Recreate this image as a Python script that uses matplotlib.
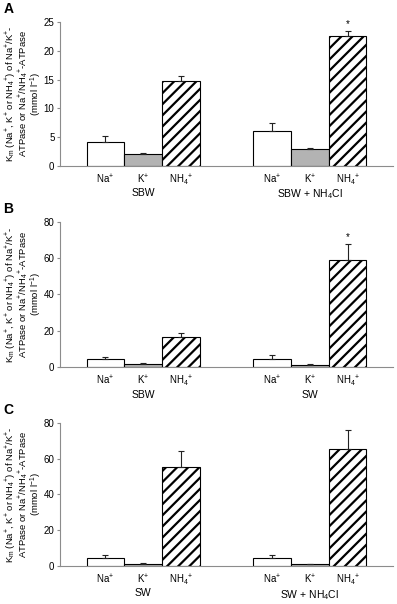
import numpy as np
import matplotlib
matplotlib.use('Agg')
import matplotlib.pyplot as plt

plt.rcParams['font.family'] = ['Liberation Sans', 'DejaVu Sans']
plt.rcParams['mathtext.fontset'] = 'custom'
plt.rcParams['mathtext.rm'] = 'Liberation Sans'
plt.rcParams['mathtext.it'] = 'Liberation Sans:italic'
plt.rcParams['mathtext.bf'] = 'Liberation Sans:bold'
plt.rcParams['hatch.linewidth'] = 1.6

# bar categories inside each group
ions = ['Na$^{+}$', 'K$^{+}$', 'NH$_{4}$$^{+}$']

# panel A
groups_A = ['SBW', 'SBW + NH$_{4}$Cl']
na_A = [4.2, 6.0]
na_A_err = [1.0, 1.5]
k_A = [2.0, 2.9]
k_A_err = [0.2, 0.2]
nh4_A = [14.7, 22.5]
nh4_A_err = [0.9, 1.0]
stars_A = ['', '*']
yticks_A = [0, 5, 10, 15, 20, 25]

# panel B
groups_B = ['SBW', 'SW']
na_B = [4.4, 4.4]
na_B_err = [1.2, 2.0]
k_B = [1.7, 1.3]
k_B_err = [0.5, 0.3]
nh4_B = [16.4, 59.0]
nh4_B_err = [2.1, 9.0]
stars_B = ['', '*']
yticks_B = [0, 20, 40, 60, 80]

# panel C
groups_C = ['SW', 'SW + NH$_{4}$Cl']
na_C = [4.3, 4.7]
na_C_err = [2.0, 1.5]
k_C = [1.3, 1.0]
k_C_err = [0.3, 0.3]
nh4_C = [55.2, 65.3]
nh4_C_err = [8.8, 10.7]
stars_C = ['', '']
yticks_C = [0, 20, 40, 60, 80]

ylab = ('K$_{\\mathrm{m}}$ (Na$^{+}$, K$^{+}$ or NH$_{4}$$^{+}$) of Na$^{+}$/K$^{+}$-\n'
        'ATPase or Na$^{+}$/NH$_{4}$$^{+}$-ATPase\n(mmol l$^{-1}$)')

axis_gray = '#8c8c8c'
fig = plt.figure(figsize=(3.97, 6.04), dpi=100)


def panel(rect, letter, groups, vals, errs, stars, yticks, group_off):
    ax = fig.add_axes(rect)
    x = np.arange(len(groups))
    w = 0.227
    styles = [dict(color='white', hatch=None),
              dict(color='#b3b3b3', hatch=None),
              dict(color='white', hatch='///')]
    centers = []
    for i, (v, e, st) in enumerate(zip(vals, errs, styles)):
        pos = x + (i - 1) * w
        centers.extend(pos)
        ax.bar(pos, v, w, color=st['color'], hatch=st['hatch'],
               edgecolor='black', linewidth=0.8, zorder=2)
        ax.errorbar(pos, v, yerr=[np.zeros(len(v)), e], fmt='none',
                    ecolor='#222222', elinewidth=0.8, capsize=2,
                    capthick=0.8, zorder=3)
    # significance stars above NH4+ bars
    for j, s in enumerate(stars):
        if s:
            top = vals[2][j] + errs[2][j]
            ax.annotate(s, (x[j] + w, top), xytext=(0, 1),
                        textcoords='offset points', ha='center',
                        va='bottom', fontsize=7)
    order = np.argsort(centers)
    labs = [ions[k // len(groups)] for k in range(3 * len(groups))]
    ax.set_xticks(np.array(centers)[order])
    ax.set_xticklabels(np.array(labs)[order], fontsize=7)
    ax.tick_params(axis='x', length=0, pad=5)
    for j, g in enumerate(groups):
        ax.annotate(g, (x[j], 0), xycoords=('data', 'axes fraction'),
                    xytext=(0, -group_off), textcoords='offset points',
                    ha='center', va='top', fontsize=7.5)
    ax.set_xlim(-0.5, len(groups) - 0.5)
    ax.set_ylim(yticks[0], yticks[-1])
    ax.set_yticks(yticks)
    ax.tick_params(axis='y', length=2.5, width=0.8, color=axis_gray,
                   labelsize=7, pad=1.5)
    for sp in ['top', 'right']:
        ax.spines[sp].set_visible(False)
    for sp in ['left', 'bottom']:
        ax.spines[sp].set_color(axis_gray)
        ax.spines[sp].set_linewidth(0.8)
    ax.set_ylabel(ylab, fontsize=6.8, linespacing=0.85)
    ax.yaxis.set_label_coords(-0.047, 0.5)
    fig.text(0.008, rect[1] + rect[3] + 0.033, letter, fontsize=10,
             fontweight='bold', va='top', ha='left')
    return ax


panel([0.1511, 0.7252, 0.8388, 0.2384], 'A', groups_A,
      [na_A, k_A, nh4_A], [na_A_err, k_A_err, nh4_A_err], stars_A, yticks_A, 15.5)
panel([0.1511, 0.3924, 0.8388, 0.2401], 'B', groups_B,
      [na_B, k_B, nh4_B], [na_B_err, k_B_err, nh4_B_err], stars_B, yticks_B, 16.5)
panel([0.1511, 0.0629, 0.8388, 0.2371], 'C', groups_C,
      [na_C, k_C, nh4_C], [na_C_err, k_C_err, nh4_C_err], stars_C, yticks_C, 16)

fig.savefig('out.png', dpi=100)
